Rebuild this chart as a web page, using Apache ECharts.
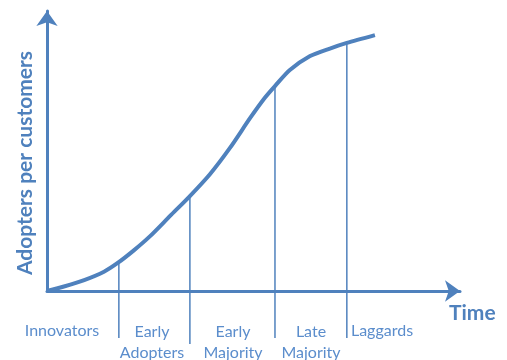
<!DOCTYPE html>
<html>
<head>
<meta charset="utf-8">
<style>
  html, body { margin: 0; padding: 0; background: #fff; }
  #chart { width: 507px; height: 360px; }
</style>
<script src="https://cdn.jsdelivr.net/npm/echarts@6/dist/echarts.min.js"></script>
</head>
<body>
<div id="chart"></div>
<script>
// adoption curve, time on x (0-100), adopters on y (0-100)
var curveTime = [0, 4.1, 9.0, 13.8, 17.2, 21.1, 24.9, 29.8, 34.6, 39.5, 44.3, 49.2, 52.8, 55.2, 58.8, 63.7, 68.5, 72.6, 79.4];
var curveValue = [0, 1.6, 3.9, 6.9, 10.1, 14.6, 19.5, 26.8, 33.9, 41.8, 51.1, 61.8, 69.1, 73.2, 78.9, 83.9, 86.6, 88.6, 91.4];

// stage boundaries: where each divider sits, its top on the curve and its bottom below the axis
var dividerTime = [17.4, 34.6, 55.2, 72.6];
var dividerTop = [10.2, 33.9, 73.2, 88.6];
var dividerBottom = [-16.8, -18.9, -16.8, -16.8];

var stageLabels = ['Innovators', 'Early\nAdopters', 'Early\nMajority', 'Late\nMajority', 'Laggards'];
var stagePos = [[62, 320], [152, 321], [233, 321], [311, 321], [382, 320]];

var blue = '#4f81bd';
var textBlue = '#5b8dcc';
var font = 'Lato, "Open Sans", sans-serif';

var chart = echarts.init(document.getElementById('chart'));

var curveData = [];
for (var i = 0; i < curveTime.length; i++) {
    curveData.push([curveTime[i], curveValue[i]]);
}

var series = [{
    type: 'line',
    data: curveData,
    smooth: 0.25,
    showSymbol: false,
    lineStyle: { color: blue, width: 4 },
    z: 3
}];

for (var j = 0; j < dividerTime.length; j++) {
    series.push({
        type: 'line',
        data: [[dividerTime[j], dividerTop[j]], [dividerTime[j], dividerBottom[j]]],
        showSymbol: false,
        clip: false,
        lineStyle: { color: blue, width: 1.5 },
        z: 2
    });
}

var graphics = [];
for (var k = 0; k < stageLabels.length; k++) {
    graphics.push({
        type: 'text',
        x: stagePos[k][0],
        y: stagePos[k][1],
        style: {
            text: stageLabels[k],
            fill: textBlue,
            font: '16px ' + font,
            textAlign: 'center',
            lineHeight: 21
        }
    });
}
graphics.push({
    type: 'text',
    x: 449,
    y: 303,
    style: {
        text: 'Time',
        fill: blue,
        font: 'bold 21px ' + font
    }
});
graphics.push({
    type: 'text',
    x: 25,
    y: 163,
    rotation: Math.PI / 2,
    style: {
        text: 'Adopters per customers',
        fill: blue,
        font: 'bold 21px ' + font,
        textAlign: 'center',
        textVerticalAlign: 'middle'
    }
});

var option = {
    animation: false,
    grid: { left: 47, right: 47, top: 11, bottom: 69 },
    xAxis: {
        type: 'value',
        min: 0,
        max: 100,
        axisLine: {
            onZero: true,
            symbol: ['none', 'arrow'],
            symbolSize: [16, 15],
            lineStyle: { color: blue, width: 3 }
        },
        axisTick: { show: false },
        axisLabel: { show: false },
        splitLine: { show: false }
    },
    yAxis: {
        type: 'value',
        min: 0,
        max: 100,
        axisLine: {
            show: true,
            symbol: ['none', 'arrow'],
            symbolSize: [16, 15],
            lineStyle: { color: blue, width: 3 }
        },
        axisTick: { show: false },
        axisLabel: { show: false },
        splitLine: { show: false }
    },
    graphic: graphics,
    series: series
};

chart.setOption(option);
</script>
</body>
</html>
